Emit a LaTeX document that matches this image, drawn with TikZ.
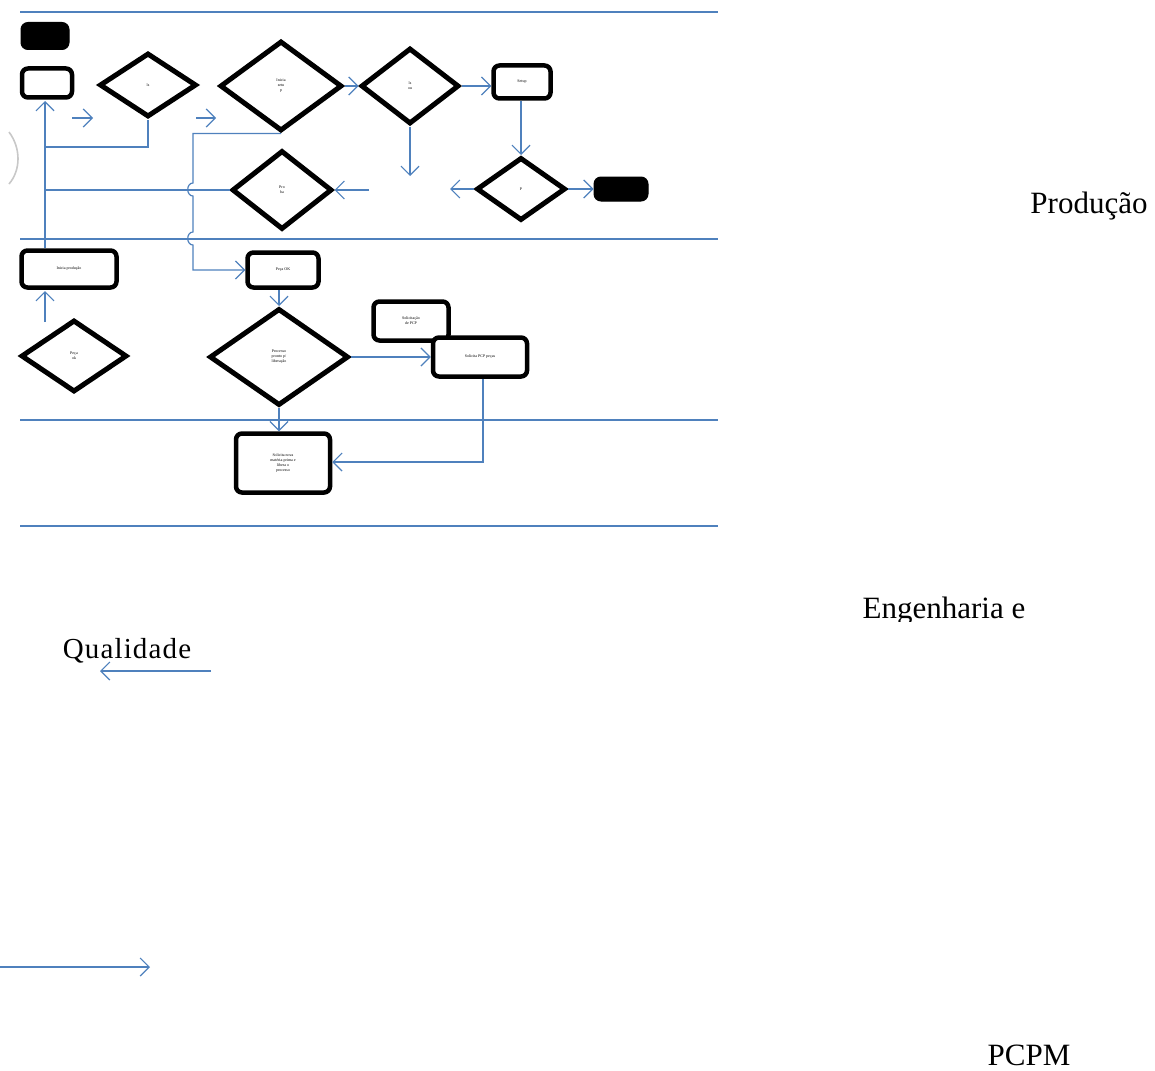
\documentclass[tikz,border=0pt]{standalone}
\usepackage{fontspec}
\setmainfont{Liberation Serif}
\usetikzlibrary{shapes.geometric,arrows.meta}
\definecolor{flow}{HTML}{4F81BD}
\definecolor{arcgray}{HTML}{C8C8C8}
\tikzset{
  lane/.style={draw=flow, line width=1.3pt},
  link/.style={draw=flow, line width=1.2pt},
  arr/.style={link, -{Straight Barb[length=9pt,width=18pt,line width=1.2pt]}},
  box/.style={draw=black, line width=4.5pt, rounded corners=6pt, fill=white, inner sep=0pt, align=center, font=\fontsize{4}{5}\selectfont},
  term/.style={draw=black, fill=black, line width=1pt, rounded corners=7pt, inner sep=0pt},
  decision/.style={diamond, draw=black, line width=5pt, fill=white, inner sep=0pt, align=center, font=\fontsize{4}{5}\selectfont},
  lanelabel/.style={inner sep=0pt, font=\fontsize{31}{36}\selectfont}
}
\begin{document}
\begin{tikzpicture}[x=1pt,y=-1pt]
\useasboundingbox (0,0) rectangle (1155,1070);

% swimlane separators
\draw[lane] (20,12) -- (718,12);
\draw[lane] (20,239) -- (718,239);
\draw[lane] (20,420) -- (718,420);
\draw[lane] (20,526) -- (718,526);

% faint bracket at the left margin
\draw[arcgray, line width=1.6pt] (9,132) .. controls (21,148) and (21,170) .. (9,184);

% upper lane
\node[term, minimum width=48pt, minimum height=27pt] (start) at (45,36) {};
\node[box, minimum width=50pt, minimum height=29pt] (entry) at (47,83) {};
\node[decision, minimum width=97pt, minimum height=64pt] (dls) at (148,85) {ls};
\node[decision, minimum width=122pt, minimum height=90pt] (dsetup) at (281,86) {Inicia\\setu\\p};
\node[decision, minimum width=98pt, minimum height=76pt] (dou) at (410,86) {ls\\ou};
\node[box, minimum width=57pt, minimum height=33pt] (setup) at (522,82) {Setup};
\node[decision, minimum width=89pt, minimum height=63pt] (dp) at (521,189) {P};
\node[term, minimum width=54pt, minimum height=24pt] (finish) at (621,189) {};
\node[decision, minimum width=100pt, minimum height=79pt] (dpro) at (282,190) {Pro\\ba};

% middle lane
\node[box, minimum width=95pt, minimum height=37pt] (inicia) at (69,269) {Inicia produção};
\node[box, minimum width=71pt, minimum height=35pt] (pecaok) at (283,270) {Peça OK};
\node[decision, minimum width=106pt, minimum height=72pt] (dpeca) at (74,356) {Peça\\ok};
\node[decision, minimum width=139pt, minimum height=97pt] (dproc) at (279,357) {Processo\\pronto p/\\liberação};
\node[box, minimum width=75pt, minimum height=39pt] (solic) at (411,321) {Solicitação\\de PCP};
\node[box, minimum width=94pt, minimum height=39pt] (pcp) at (480,357) {Solicita PCP peças};

% lower lane
\node[box, minimum width=94pt, minimum height=59pt] (nova) at (283,463) {Solicita nova\\matéria-prima e\\libera o\\processo};

% free ends of the loose connectors
\coordinate (a1s) at (72,118);  \coordinate (a1e) at (93,118);
\coordinate (a2s) at (196,118); \coordinate (a2e) at (216,118);
\coordinate (ouend) at (410,176);
\coordinate (pend) at (450,189);
\coordinate (prostart) at (369,190);
\coordinate (qs) at (211,671); \coordinate (qe) at (100,671);
\coordinate (ls) at (0,967);   \coordinate (le) at (150,967);

% connectors in the upper lane
\draw[arr] (inicia.north -| 45,0) -- (45,101);
\draw[link] (dls.south) -- (148,147) -- (45,147);
\draw[link] (dpro.west) -- (dpro.west -| 45,0);
\draw[arr] (a1s) -- (a1e);
\draw[arr] (a2s) -- (a2e);
\draw[arr] (dsetup.east) -- (dou.west);
\draw[arr] (dou.east) -- (setup.west |- dou.east);
\draw[arr] (dou.south) -- (ouend);
\draw[arr] (setup.south -| dp.north) -- (dp.north);
\draw[arr] (dp.west) -- (pend);
\draw[arr] (dp.east) -- (finish.west);
\draw[arr] (prostart) -- (dpro.east);

% down-going line with hops over the crossings
\draw[arr] (dsetup.south) -- (dsetup.south -| 193,0) -- (193,183)
  .. controls (186,183) and (186,196) .. (193,196) -- (193,232)
  .. controls (186,232) and (186,245) .. (193,245) -- (193,270) -- (pecaok.west);

% connectors in the middle and lower lanes
\draw[arr] (45,322) -- (45,291);
\draw[arr] (pecaok.south -| dproc.north) -- (dproc.north);
\draw[arr] (dproc.east) -- (pcp.west);
\draw[arr] (dproc.south) -- (nova.north -| dproc.south);
\draw[arr] (pcp.south -| 483,0) -- (483,462) -- (nova.east |- 0,462);

% lane names
\node[lanelabel] (prod) at (1089,206) {Produção};
\begin{scope}
  \clip (850,585) rectangle (1040,621);
  \node[lanelabel] (eng) at (944,611) {Engenharia e};
\end{scope}
\node[lanelabel, font=\fontsize{29}{34}\selectfont\addfontfeature{LetterSpace=4}] (qual) at (127,651) {Qualidade};
\node[lanelabel] (pcpm) at (1029,1055) {PCPM};
\draw[arr] (qs) -- (qe);
\draw[arr] (ls) -- (le);
\end{tikzpicture}
\end{document}
